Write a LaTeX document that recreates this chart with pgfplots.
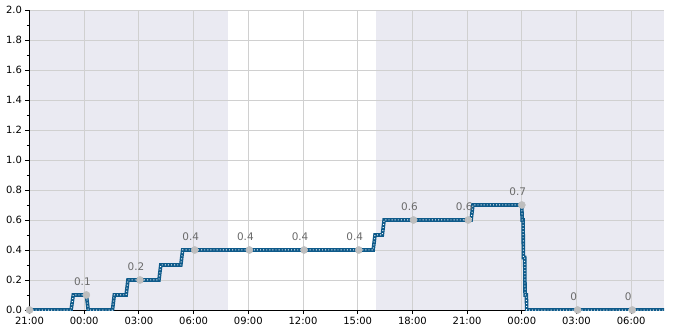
\documentclass[border=0pt]{standalone}
\usepackage{fontspec}
\setmainfont{DejaVu Sans}
\usepackage{pgfplots}
\pgfplotsset{compat=1.18}
\usetikzlibrary{calc}
\definecolor{bgshade}{HTML}{EAEAF2}
\definecolor{gridc}{HTML}{D0D0D0}
\definecolor{lineblue}{HTML}{0E5A8A}
\definecolor{dotgrey}{HTML}{BEBEBE}
\definecolor{labgrey}{HTML}{6A6A6A}
\pgfplotstableread{
x y
-3 0
-0.72 0
-0.60 0.1
0.12 0.1
0.22 0
1.55 0
1.65 0.1
2.30 0.1
2.40 0.2
4.10 0.2
4.20 0.3
5.30 0.3
5.40 0.4
15.85 0.4
15.95 0.5
16.35 0.5
16.45 0.6
21.22 0.6
21.32 0.7
24.00 0.7
24.02 0.6
24.07 0.6
24.09 0.35
24.16 0.35
24.18 0.1
24.25 0.1
24.27 0
31.8 0
}\steps
\pgfplotstableread{
x y label
0.12 0.1 0.1
3.06 0.2 0.2
6.06 0.4 0.4
9.06 0.4 0.4
12.06 0.4 0.4
15.06 0.4 0.4
18.06 0.6 0.6
21.06 0.6 0.6
24.0 0.7 0.7
27.06 0 0
30.06 0 0
}\marks
\begin{document}
\begin{tikzpicture}
\begin{axis}[name=ax, set layers, scale only axis, width=634.5bp, height=300bp,
  xmin=-3, xmax=31.8, ymin=0, ymax=2,
  axis lines*=left,
  axis line style={black, line width=0.8bp},
  xtick={-3,0,...,30},
  xticklabels={21:00,00:00,03:00,06:00,09:00,12:00,15:00,18:00,21:00,00:00,03:00,06:00},
  ytick={0,0.2,...,2.01},
  minor y tick num=1,
  tick align=outside,
  major tick length=4bp, minor tick length=2.5bp,
  tick style={black, line width=0.8bp},
  grid=major,
  major grid style={gridc, line width=0.8bp},
  ticklabel style={font=\fontsize{10}{12}\selectfont, text=black},
  /pgf/number format/assume math mode=true,
  yticklabel style={/pgf/number format/.cd, fixed, fixed zerofill, precision=1},
]
\begin{pgfonlayer}{axis background}
\fill[bgshade] (axis cs:-3,0) rectangle (axis cs:7.9,2);
\fill[bgshade] (axis cs:16.0,0) rectangle (axis cs:31.8,2);
\end{pgfonlayer}
\addplot[lineblue, line width=3.6bp, line join=miter] table[x=x,y=y] {\steps};
\addplot[white, line width=1bp, dash pattern=on 0.9bp off 2.2bp] table[x=x,y=y] {\steps};
\addplot[only marks, mark=*, mark size=3.6bp, dotgrey, mark options={draw=dotgrey, fill=dotgrey}] coordinates {(-3,0)};
\addplot[only marks, mark=*, mark size=3.6bp, mark options={draw=dotgrey, fill=dotgrey},
  nodes near coords, point meta=explicit symbolic,
  nodes near coords style={text=labgrey, font=\fontsize{10.5}{12.5}\selectfont, anchor=south, inner sep=0pt, yshift=9bp, xshift=-4bp}]
  table[x=x,y=y,meta=label] {\marks};
\end{axis}
\pgfresetboundingbox
\path ($(ax.south west)+(-29.5bp,-20bp)$) rectangle ($(ax.north east)+(21bp,10bp)$);
\end{tikzpicture}
\end{document}
